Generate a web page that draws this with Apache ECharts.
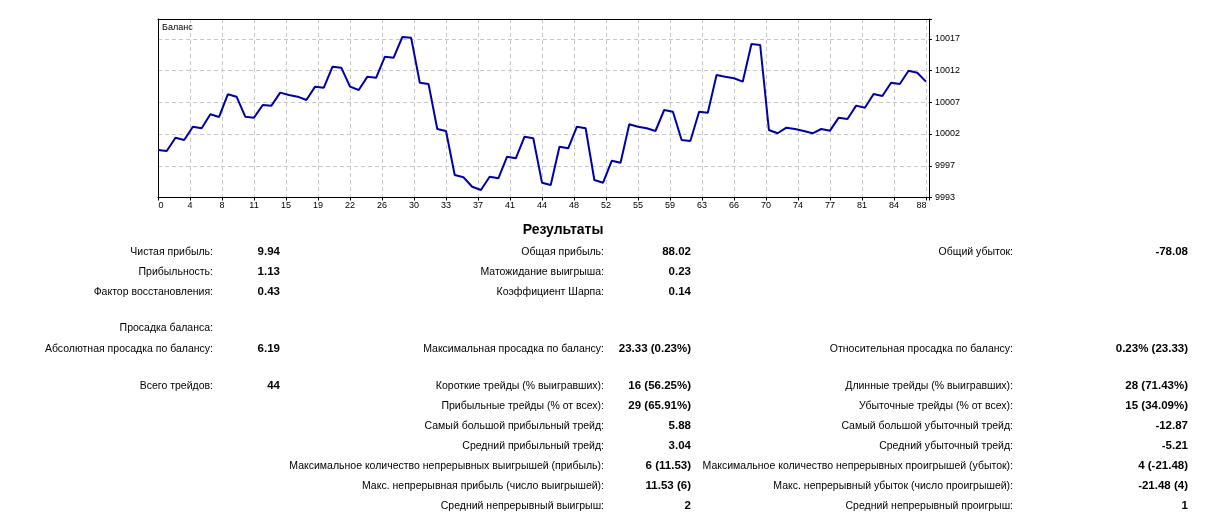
<!DOCTYPE html>
<html><head><meta charset="utf-8">
<script src="https://cdn.jsdelivr.net/npm/echarts@6/dist/echarts.min.js"></script>
<style>html,body{margin:0;padding:0;background:#fff}#c{width:1228px;height:531px}</style>
</head><body><div id="c"></div>
<script>
// ---- data ----
const chartTitle = 'Баланс';
const balance = [
  10000.00, 9999.85, 10001.89, 10001.54, 10003.58, 10003.34, 10005.49, 10005.08, 10008.57, 10008.20,
  10005.12, 10004.97, 10006.92, 10006.82, 10008.82, 10008.46, 10008.20, 10007.69, 10009.74, 10009.58,
  10012.82, 10012.66, 10009.74, 10009.23, 10011.28, 10011.12, 10014.35, 10014.20, 10017.38, 10017.28,
  10010.35, 10010.15, 10003.23, 10002.92, 9996.15, 9995.80, 9994.35, 9993.85, 9995.89, 9995.65,
  9998.97, 9998.72, 10002.05, 10001.80, 9994.97, 9994.62, 10000.51, 10000.26, 10003.58, 10003.34,
  9995.38, 9994.97, 9998.35, 9998.05, 10003.95, 10003.58, 10003.34, 10002.92, 10006.15, 10005.89,
  10001.54, 10001.38, 10005.89, 10005.74, 10011.54, 10011.28, 10011.03, 10010.51, 10016.31, 10016.15,
  10003.08, 10002.57, 10003.43, 10003.23, 10002.92, 10002.57, 10003.23, 10002.97, 10004.97, 10004.77,
  10006.82, 10006.51, 10008.62, 10008.31, 10010.35, 10010.15, 10012.20, 10011.89, 10010.51
];
const xTickLabels = ['0','4','8','11','15','19','22','26','30','33','37','41','44','48','52','55','59','63','66','70','74','77','81','84','88'];
const yTickLabels = ['9993','9997','10002','10007','10012','10017'];

const resultsTitle = 'Результаты';
const col1Labels = ['Чистая прибыль:', 'Прибыльность:', 'Фактор восстановления:', 'Просадка баланса:', 'Абсолютная просадка по балансу:', 'Всего трейдов:', '', '', '', '', '', ''];
const col1Values = ['9.94', '1.13', '0.43', '', '6.19', '44', '', '', '', '', '', ''];
const col2Labels = ['Общая прибыль:', 'Матожидание выигрыша:', 'Коэффициент Шарпа:', '', 'Максимальная просадка по балансу:', 'Короткие трейды (% выигравших):', 'Прибыльные трейды (% от всех):', 'Самый большой прибыльный трейд:', 'Средний прибыльный трейд:', 'Максимальное количество непрерывных выигрышей (прибыль):', 'Макс. непрерывная прибыль (число выигрышей):', 'Средний непрерывный выигрыш:'];
const col2Values = ['88.02', '0.23', '0.14', '', '23.33 (0.23%)', '16 (56.25%)', '29 (65.91%)', '5.88', '3.04', '6 (11.53)', '11.53 (6)', '2'];
const col3Labels = ['Общий убыток:', '', '', '', 'Относительная просадка по балансу:', 'Длинные трейды (% выигравших):', 'Убыточные трейды (% от всех):', 'Самый большой убыточный трейд:', 'Средний убыточный трейд:', 'Максимальное количество непрерывных проигрышей (убыток):', 'Макс. непрерывный убыток (число проигрышей):', 'Средний непрерывный проигрыш:'];
const col3Values = ['-78.08', '', '', '', '0.23% (23.33)', '28 (71.43%)', '15 (34.09%)', '-12.87', '-5.21', '4 (-21.48)', '-21.48 (4)', '1'];

// ---- layout ----
const FONT = '"Liberation Sans", Arial, sans-serif';
const gridLeft = 158, gridRight = 299, gridTop = 19, gridBottom = 333.5;
const plotW = 1228 - gridLeft - gridRight;
const plotH = 531 - gridTop - gridBottom;
const xStepPx = 32, yStepPx = 31.75;
const xGridMax = plotW / xStepPx;
const xDataMax = xGridMax * (balance.length - 1) / (xTickLabels.length - 1);
const yGridMax = plotH / yStepPx;
const yDataMin = 9992.69, yDataMax = 10020.15;

const rowY = [252, 272, 292, 328, 349, 386, 406, 426, 446, 466, 486, 506];
const colLabelX = [213, 604, 1013];
const colValueX = [280, 691, 1188];

function txt(text, x, y, opts) {
  return {
    type: 'text', silent: true, z: 100,
    style: Object.assign({
      text: text, x: x, y: y,
      fill: '#000', fontFamily: FONT, fontSize: 10.5,
      align: 'right', textAlign: 'right',
      verticalAlign: 'middle', textVerticalAlign: 'middle'
    }, opts || {})
  };
}
const graphics = [];
graphics.push(txt(chartTitle, gridLeft + 4, gridTop + 9, {align: 'left', textAlign: 'left', fontSize: 9}));
graphics.push(txt(resultsTitle, 563, 230, {align: 'center', textAlign: 'center', fontSize: 14, fontWeight: 'bold'}));
const cols = [[col1Labels, col1Values], [col2Labels, col2Values], [col3Labels, col3Values]];
cols.forEach(function (c, ci) {
  c[0].forEach(function (lab, ri) {
    if (lab) graphics.push(txt(lab, colLabelX[ci], rowY[ri]));
    if (c[1][ri]) graphics.push(txt(c[1][ri], colValueX[ci], rowY[ri], {fontWeight: 'bold', fontSize: 11.5}));
  });
});

function isInt(v) { return Math.abs(v - Math.round(v)) < 1e-6; }

const option = {
  animation: false,
  backgroundColor: '#fff',
  grid: {left: gridLeft, right: gridRight, top: gridTop, bottom: gridBottom, show: true, backgroundColor: '#fff', borderWidth: 0},
  xAxis: [
    {
      type: 'value', min: 0, max: xDataMax, position: 'top',
      axisLine: {show: true, onZero: false, lineStyle: {color: '#000', width: 1}},
      axisTick: {show: false}, axisLabel: {show: false}, splitLine: {show: false}
    },
    {
      type: 'value', min: 0, max: xGridMax, interval: 1, position: 'bottom',
      axisLine: {show: true, onZero: false, lineStyle: {color: '#000', width: 1}},
      axisTick: {show: true, length: 3, lineStyle: {color: '#000'}},
      axisLabel: {
        show: true, margin: 4, color: '#000', fontFamily: FONT, fontSize: 9,
        showMinLabel: true, showMaxLabel: true,
        formatter: function (v) {
          if (!isInt(v)) return '';
          const i = Math.round(v);
          if (i >= xTickLabels.length) return '';
          if (i === 0) return '{l|' + xTickLabels[i] + '}';
          if (i === xTickLabels.length - 1) return '{r|' + xTickLabels[i] + '}';
          return xTickLabels[i];
        },
        rich: {
          l: {padding: [0, 0, 0, 6], fontFamily: FONT, fontSize: 9, color: '#000'},
          r: {padding: [0, 9, 0, 0], fontFamily: FONT, fontSize: 9, color: '#000'}
        }
      },
      splitLine: {show: true, showMinLine: false, showMaxLine: false, lineStyle: {color: '#c8c8c8', width: 1, type: [4, 3]}}
    }
  ],
  yAxis: [
    {
      type: 'value', min: yDataMin, max: yDataMax, position: 'left', scale: true,
      axisLine: {show: true, onZero: false, lineStyle: {color: '#000', width: 1}},
      axisTick: {show: false}, axisLabel: {show: false}, splitLine: {show: false}
    },
    {
      type: 'value', min: 0, max: yGridMax, interval: 1, position: 'right',
      axisLine: {show: true, onZero: false, lineStyle: {color: '#000', width: 1}},
      axisTick: {show: true, length: 3, lineStyle: {color: '#000'}},
      axisLabel: {
        show: true, margin: 6, color: '#000', fontFamily: FONT, fontSize: 9, align: 'left',
        showMinLabel: true, showMaxLabel: true,
        formatter: function (v) {
          if (!isInt(v)) return '';
          const i = Math.round(v);
          return i < yTickLabels.length ? yTickLabels[i] : '';
        }
      },
      splitLine: {show: true, showMinLine: false, showMaxLine: false, lineStyle: {color: '#c8c8c8', width: 1, type: [4, 3]}}
    }
  ],
  series: [{
    type: 'line', xAxisIndex: 0, yAxisIndex: 0,
    data: balance.map(function (v, i) { return [i, v]; }),
    showSymbol: false, symbol: 'none',
    lineStyle: {color: '#0000a8', width: 2},
    z: 5
  }],
  graphic: graphics
};
const chart = echarts.init(document.getElementById('c'), null, {renderer: 'canvas'});
chart.setOption(option);
</script>
</body></html>
